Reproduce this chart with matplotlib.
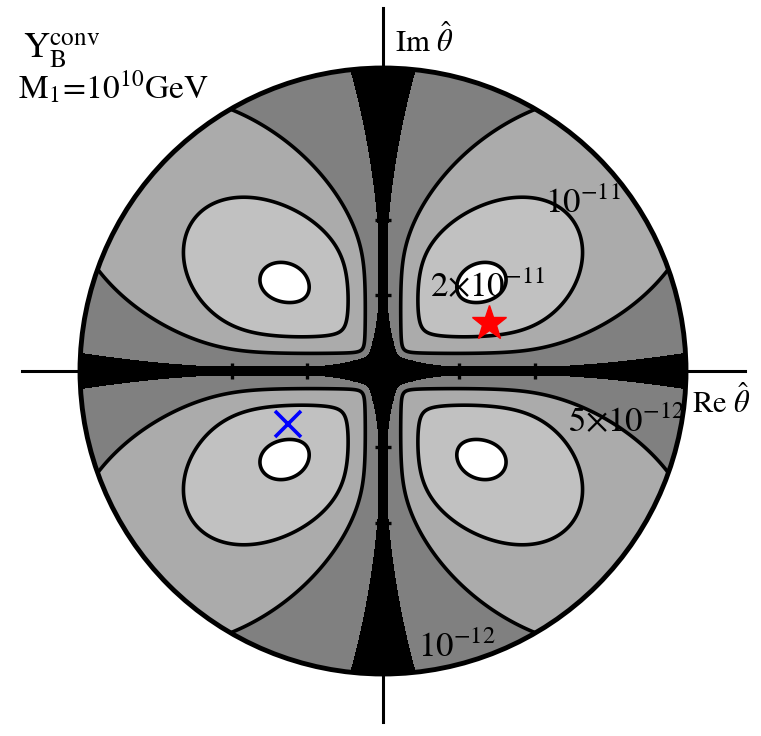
import numpy as np
import matplotlib.pyplot as plt
from matplotlib.patches import Circle

plt.rcParams['font.family'] = 'STIXGeneral'
plt.rcParams['mathtext.fontset'] = 'stix'

# Y_B contour levels and the grey shades between them
levels = [0.0, 1e-12, 5e-12, 1e-11, 2e-11, 1e-9]
fill_colors = ['black', '#808080', '#ababab', '#c1c1c1', 'white']
line_levels = [5e-12, 1e-11, 2e-11]

# model of Y_B on the unit disk (u = Re, v = Im, both scaled by the disk radius)
amp = 8.33e-11
y_stretch = 0.79          # washout sets in sooner along Im
knee = 0.52
knee_power = 8
tail_power = 0.3125
bump_center = (0.317, 0.271)
bump_height = 0.21
bump_widths = (0.14, 0.10)
bump_angle = np.deg2rad(30)

# the dark band the mesh leaves along both axes, wider at the origin
band_half = 0.017
hub_extra = 0.042
hub_radius = 0.119

disk_radius = 4.0
tick_pos = [-3, -2, -1, 1, 2, 3]

star_point = (1.40, 0.63)
cross_point = (-1.254, -0.70)

contour_labels = [
    (r'$10^{-11}$', 2.14, 2.09),
    (r'$2{\times}10^{-11}$', 0.62, 0.98),
    (r'$5{\times}10^{-12}$', 2.44, -0.81),
    (r'$10^{-12}$', 0.46, -3.78),
]

px = 75.75  # pixels per unit
fig = plt.figure(figsize=(7.61, 7.36), dpi=100)
ax = fig.add_axes([0, 0, 1, 1])
ax.set_xlim(-383 / px, (761 - 383) / px)
ax.set_ylim(-(736 - 371) / px, 371 / px)
ax.axis('off')

g = np.linspace(-disk_radius, disk_radius, 1601)
X, Y = np.meshgrid(g, g)
u = np.abs(X) / disk_radius
v = np.abs(Y) / disk_radius
r = np.hypot(u, v)
soft_min = u * v / (u**4 + v**4 + 1e-30) ** 0.25
rho = np.hypot(u, v / y_stretch)
washout = (1 + (rho / knee) ** knee_power) ** (-tail_power)
du = u - bump_center[0]
dv = v - bump_center[1]
along = du * np.cos(bump_angle) + dv * np.sin(bump_angle)
across = -du * np.sin(bump_angle) + dv * np.cos(bump_angle)
bump = 1 + bump_height * np.exp(-0.5 * ((along / bump_widths[0])**2 + (across / bump_widths[1])**2))
yb = amp * soft_min * washout * bump
band = soft_min < band_half + hub_extra * np.exp(-(r / hub_radius) ** 2)
yb[band] = 0.0

disk = Circle((0, 0), disk_radius, transform=ax.transData)
cf = ax.contourf(X, Y, yb, levels=levels, colors=fill_colors, zorder=1)
cf.set_clip_path(disk)
cl = ax.contour(X, Y, yb, levels=line_levels, colors='black', linewidths=2.6, zorder=2)
cl.set_clip_path(disk)
ax.add_patch(Circle((0, 0), disk_radius, fill=False, ec='black', lw=3.5, zorder=4))

# axes through the origin
ax.plot([-4.766, 4.779], [0, 0], color='black', lw=2.2, zorder=3)
ax.plot([0, 0], [-4.63, 4.79], color='black', lw=2.2, zorder=3)
ax.plot(tick_pos, np.zeros(len(tick_pos)), ls='none', marker='|', ms=11.5, mew=2.4, color='black', zorder=3)
ax.plot(np.zeros(len(tick_pos)), tick_pos, ls='none', marker='_', ms=11.5, mew=2.4, color='black', zorder=3)

for txt, x, y in contour_labels:
    ax.text(x, y, txt, fontsize=25, ha='left', va='baseline', zorder=7)

ax.text(4.08, -0.55, r'$\mathrm{Re}\ \hat{\theta}$', fontsize=22, ha='left', va='baseline', zorder=7)
ax.text(0.16, 4.21, r'$\mathrm{Im}\ \hat{\theta}$', fontsize=22, ha='left', va='baseline', zorder=7)
ax.text(-4.75, 4.13, r'$\mathrm{Y}_{\mathrm{B}}^{\mathrm{conv}}$', fontsize=26, ha='left', va='baseline')
ax.text(-4.82, 3.60, r'$\mathrm{M}_1\!=\!10^{10}\mathrm{GeV}$', fontsize=24, ha='left', va='baseline')

ax.plot(*star_point, marker='*', ms=26, color='red', mec='red', ls='none', zorder=6)
ax.plot(*cross_point, marker='x', ms=19, mew=2.6, color='blue', ls='none', zorder=6)

fig.savefig('out.png', dpi=100)
